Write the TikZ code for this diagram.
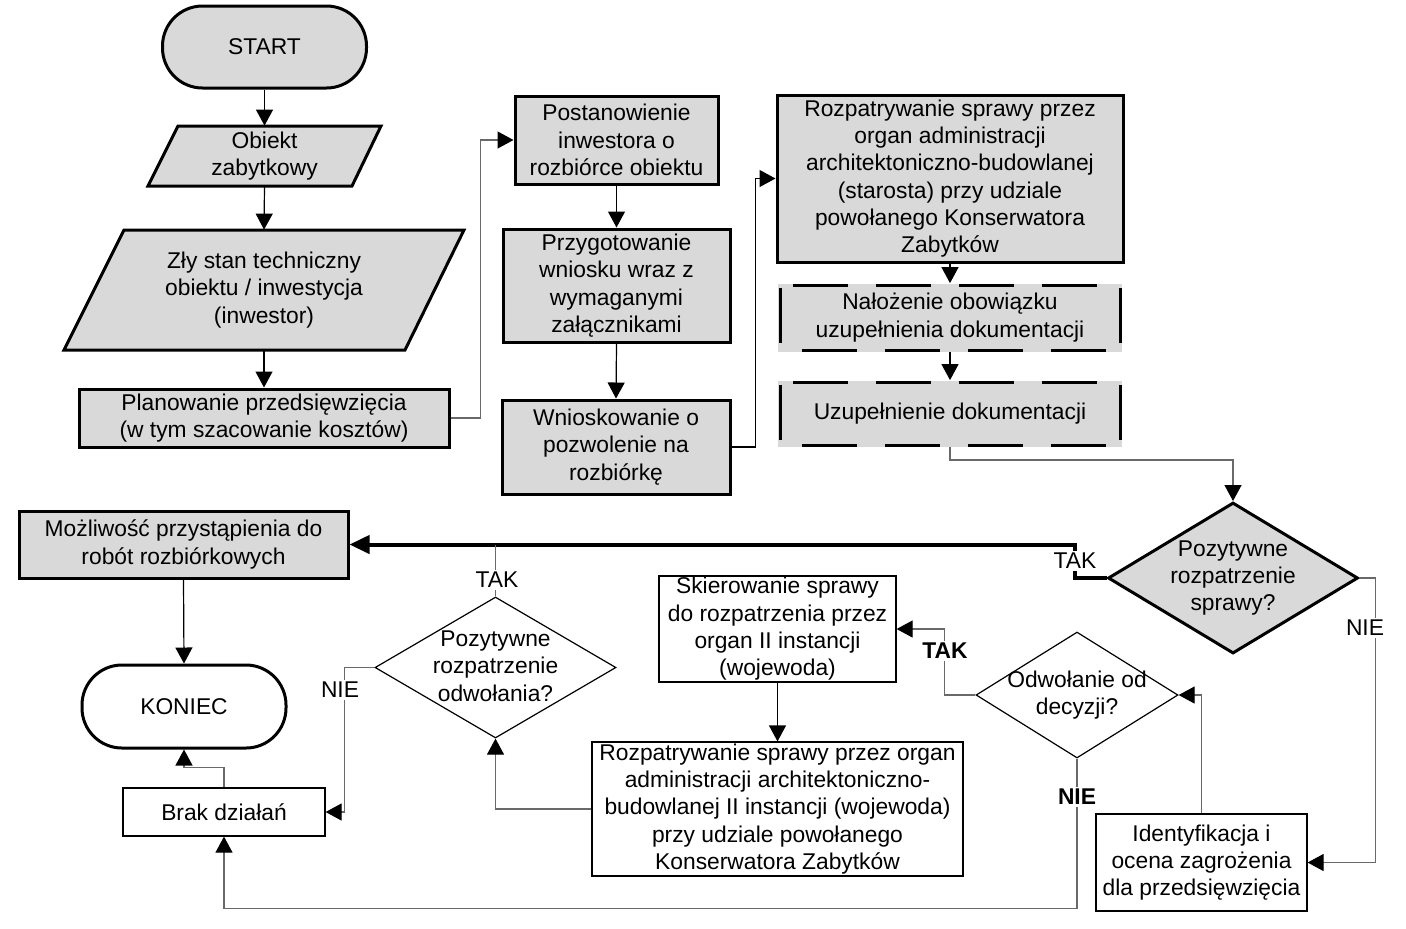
\documentclass[tikz,border=0pt]{standalone}
\usepackage{fontspec}
\setmainfont{Liberation Sans}
\usetikzlibrary{shapes.geometric,arrows.meta}
\definecolor{boxgray}{RGB}{217,217,217}
\definecolor{linegray}{RGB}{105,105,105}
\begin{document}
\begin{tikzpicture}[x=0.5pt,y=-0.5pt,
  every node/.style={font=\fontsize{11.4}{13.65}\selectfont, align=center, inner sep=0pt},
  gbox/.style={draw, line width=1.5pt, fill=boxgray, rectangle},
  wbox/.style={draw, line width=0.6pt, fill=white, rectangle},
  term/.style={draw, line width=1.5pt, rounded corners=20pt, rectangle},
  conn/.style={line width=0.6pt, draw=black, -{Triangle[length=8pt,width=8.5pt,color=black]}},
  gconn/.style={line width=0.6pt, draw=linegray, -{Triangle[length=8pt,width=8.5pt,color=black]}},
  gline/.style={line width=0.6pt, draw=linegray},
  thickconn/.style={line width=2pt, draw=black, -{Triangle[length=10pt,width=9pt]}},
  lbl/.style={fill=white, inner sep=1pt},
  blbl/.style={fill=white, inner sep=1pt, font=\fontsize{11.4}{13.65}\selectfont\bfseries},
  dside/.style={line width=1.5pt, dash pattern=on 27.5pt off 14pt},
  ]
\useasboundingbox (0,0) rectangle (1406,928);
\fill[white] (0,0) rectangle (1406,928);

% --- left column ---
\node[term, fill=boxgray, minimum width=102pt, minimum height=41pt] (start) at (264.5,47) {START};

\draw[line width=1.5pt, fill=boxgray] (178,126) -- (381,126) -- (352,186) -- (148,186) -- cycle;
\node[minimum width=100pt, minimum height=30pt] (obiekt) at (264.5,156) {Obiekt\\zabytkowy};

\draw[line width=1.5pt, fill=boxgray] (124,230) -- (464,230) -- (405,350) -- (64,350) -- cycle;
\node[minimum width=150pt, minimum height=60pt] (zly) at (264,290) {Zły stan techniczny\\obiektu / inwestycja\\(inwestor)};

\node[gbox, minimum width=185pt, minimum height=29pt] (plan) at (264,418) {Planowanie przedsięwzięcia\\(w tym szacowanie kosztów)};

% --- second column ---
\node[gbox, minimum width=101.5pt, minimum height=44pt] (post) at (616.5,140) {Postanowienie\\inwestora o\\rozbiórce obiektu};
\node[gbox, minimum width=113.5pt, minimum height=56.5pt] (przyg) at (616.5,285.5) {Przygotowanie\\wniosku wraz z\\wymaganymi\\załącznikami};
\node[gbox, minimum width=114pt, minimum height=47pt] (wniosk) at (616,447) {Wnioskowanie o\\pozwolenie na\\rozbiórkę};

% --- third column ---
\node[gbox, minimum width=173pt, minimum height=83.5pt] (rozp) at (950,178.5) {Rozpatrywanie sprawy przez\\organ administracji\\architektoniczno-budowlanej\\(starosta) przy udziale\\powołanego Konserwatora\\Zabytków};

\node[fill=boxgray, minimum width=172pt, minimum height=34pt] (nal) at (950,317.5) {Nałożenie obowiązku\\uzupełnienia dokumentacji};
\draw[dside, dash phase=35pt] (780,285) -- (1120,285);
\draw[dside, dash phase=30.5pt] (780,350) -- (1120,350);
\draw[dside, dash phase=40pt] (780,285) -- (780,350);
\draw[dside, dash phase=40pt] (1120,285) -- (1120,350);

\node[fill=boxgray, minimum width=172pt, minimum height=33pt] (uzup) at (950,413.5) {Uzupełnienie dokumentacji};
\draw[dside, dash phase=35pt] (780,382) -- (1120,382);
\draw[dside, dash phase=30.5pt] (780,445) -- (1120,445);
\draw[dside, dash phase=40pt] (780,382) -- (780,445);
\draw[dside, dash phase=40pt] (1120,382) -- (1120,445);

% --- decision 1 ---
\node[diamond, draw, line width=1.5pt, fill=boxgray, minimum width=125pt, minimum height=75.5pt] (d1) at (1233,578) {};
\node at (d1) {Pozytywne\\rozpatrzenie\\sprawy?};

% --- lower left ---
\node[gbox, minimum width=164.5pt, minimum height=33.5pt] (mozl) at (183.5,544.5) {Możliwość przystąpienia do\\robót rozbiórkowych};
\node[term, fill=white, minimum width=102pt, minimum height=41.5pt] (koniec) at (184,706.5) {KONIEC};
\node[wbox, minimum width=101pt, minimum height=24pt] (brak) at (224,812) {Brak działań};

\node[diamond, draw, line width=0.6pt, fill=white, minimum width=120.5pt, minimum height=70.5pt] (d2) at (495.5,667.5) {};
\node at (495.5,666) {Pozytywne\\rozpatrzenie\\odwołania?};

\node[wbox, minimum width=118.5pt, minimum height=53pt] (skier) at (777.5,629) {Skierowanie sprawy\\do rozpatrzenia przez\\organ II instancji\\(wojewoda)};
\node[wbox, minimum width=185.5pt, minimum height=67pt] (rozp2) at (777.5,809) {Rozpatrywanie sprawy przez organ\\administracji architektoniczno-\\budowlanej II instancji (wojewoda)\\przy udziale powołanego\\Konserwatora Zabytków};

\node[diamond, draw, line width=0.6pt, fill=white, minimum width=101pt, minimum height=63pt] (d3) at (1077,695) {};
\node at (1077,695) {Odwołanie od\\decyzji?};

\node[wbox, minimum width=105.5pt, minimum height=48.5pt] (ident) at (1201.5,862.5) {Identyfikacja i\\ocena zagrożenia\\dla przedsięwzięcia};

% --- connectors ---
\draw[conn] (start.south) -- (obiekt.north);
\draw[conn] (obiekt.south) -- (zly.north);
\draw[conn] (zly.south) -- (plan.north);
\draw[gconn] (plan.east) -- ++(30,0) |- (post.west);
\draw[conn] (post.south) -- (przyg.north);
\draw[conn] (przyg.south) -- (wniosk.north);
\draw[conn] (wniosk.east) -- ++(24,0) |- (rozp.west);
\draw[conn] (rozp.south) -- (nal.north);
\draw[conn] (nal.south) -- (uzup.north);
\draw[gconn] (uzup.south) -- ++(0,13) -| (d1.north);

\draw[thickconn] (d1.west) -- ++(-32,0) |- (mozl.east);
\node[lbl] at (1075,561) {TAK};

\draw[gline] (d2.north) -- (d2.north |- mozl.east);
\node[lbl] at (497,580) {TAK};

\draw[gconn] (d2.west) -- ++(-30,0) |- (brak.east);
\node[lbl] at (340,690) {NIE};

\draw[gconn] (rozp2.west) -| (d2.south);
\draw[conn] (skier.south) -- (rozp2.north);

\draw[gconn] (d3.west) -- ++(-31,0) |- (skier.east);
\node[blbl] at (945,651) {TAK};

\draw[gconn] (d3.south) -- ++(0,150) -| (brak.south);
\node[blbl] at (1077,797) {NIE};

\draw[gconn] (ident.north) |- (d3.east);
\draw[gconn] (d1.east) -- ++(16,0) |- (ident.east);
\node[lbl] at (1365,628) {NIE};

\draw[gconn] (brak.north) -- ++(0,-20) -| (koniec.south);
\draw[conn] (mozl.south) -- (koniec.north);
\end{tikzpicture}
\end{document}
